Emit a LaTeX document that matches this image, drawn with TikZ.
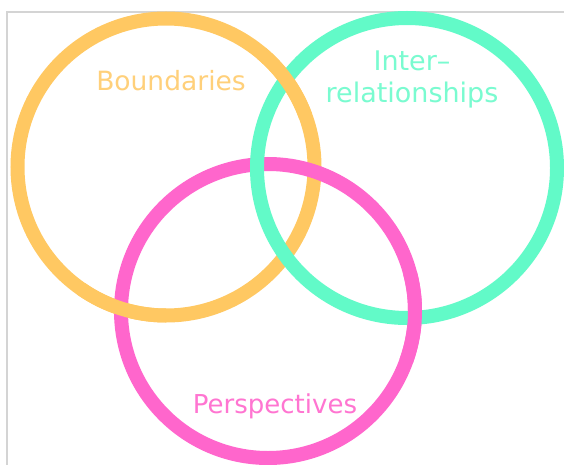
\documentclass[tikz,border=0pt]{standalone}
\usepackage{fontspec}
\setmainfont{DejaVu Sans}
\usepackage{tikz}
\usetikzlibrary{positioning}
\definecolor{bndorange}{RGB}{255,200,98}
\definecolor{relgreen}{RGB}{98,250,200}
\definecolor{perpink}{RGB}{255,102,204}
\definecolor{framegray}{RGB}{212,212,212}

\begin{document}
\begin{tikzpicture}[x=1pt,y=-1pt,
    ring/.style={circle,draw=#1,line width=14pt,inner sep=0pt,outer sep=0pt},
    overlap/.style={draw=#1,line width=14pt},
    label/.style={align=center,inner sep=0pt,anchor=base}]
    \useasboundingbox (0,0) rectangle (564,465);
    \fill[white] (0,0) rectangle (564,465);
    \draw[framegray,line width=1.3pt] (7,475) -- (7,12) -- (575,12);

    % Rings
    \node[ring=bndorange,minimum size=297pt] (bnd) at (166,167) {};
    \node[ring=perpink,minimum size=294pt] (per) at (268,311) {};
    \node[ring=relgreen,minimum size=300pt] (rel) at (407,168) {};

    % woven crossings
    \draw[overlap=bndorange] (bnd.20) arc[start angle=20,end angle=50,radius=148.5pt];
    \draw[overlap=bndorange] (bnd.-90) arc[start angle=-90,end angle=-125,radius=148.5pt];
    \draw[overlap=perpink] (per.-20) arc[start angle=-20,end angle=15,radius=147pt];

    % Labels
    \node[label,text=bndorange!85!white,font=\fontsize{26.5}{32}\selectfont] (bndtxt) at (171,91) {Boundaries};
    \node[label,text=relgreen!85!white,font=\fontsize{27}{32}\selectfont] (reltxt) at (412,103) {Inter–\\relationships};
    \node[label,text=perpink!90!white,font=\fontsize{26}{32}\selectfont] (pertxt) at (275,413) {Perspectives};
\end{tikzpicture}
\end{document}
